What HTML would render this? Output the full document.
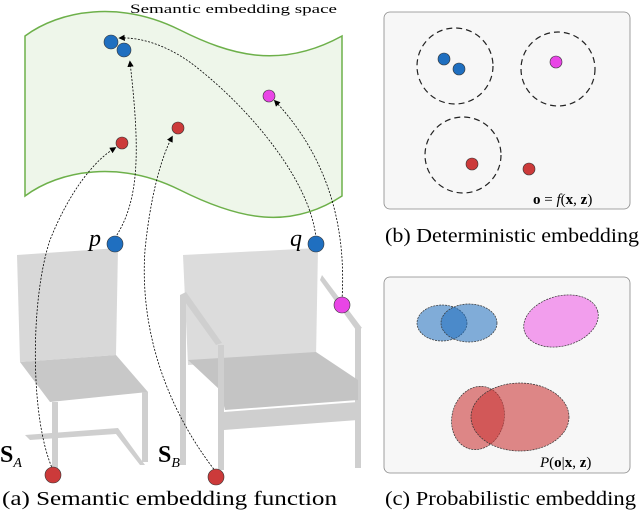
<!DOCTYPE html>
<html><head><style>body{margin:0;background:#fff}svg{display:block}</style></head><body>
<svg width="640" height="512" viewBox="0 0 640 512" xmlns="http://www.w3.org/2000/svg" font-family="Liberation Serif, serif">
<defs><marker id="ar" markerWidth="8" markerHeight="8" refX="6" refY="4" orient="auto"><path d="M0,0 L8,4 L0,8 z" fill="#000"/></marker></defs>
<path d="M25,36 C60,10 120,0 180,30 C230,55 280,70 342,36 L342,196 C290,230 240,220 180,190 C120,160 60,170 25,196 Z" fill="#eef6ea" stroke="#6db04a" stroke-width="1.5"/>
<text x="130" y="13" font-size="13" textLength="207" lengthAdjust="spacingAndGlyphs">Semantic embedding space</text>
<g fill="#cfcfcf">
<path d="M17,255 L118,248 L116,355 L20,362 Z" fill="#d8d8d8"/>
<path d="M20,362 L116,355 L148,392 L50,402 Z" fill="#c8c8c8"/>
<rect x="52" y="402" width="6" height="70"/>
<rect x="142" y="392" width="6" height="70"/>
<path d="M25,435 L118,428 L145,465 L140,465 L116,434 L30,440 Z"/>
</g>
<g fill="#cfcfcf">
<path d="M183,255 L318,248 L316,358 L188,365 Z" fill="#dcdcdc"/>
<rect x="180" y="295" width="6" height="170"/>
<path d="M180,295 L216,345 L222,343 L186,292 Z"/>
<path d="M322,275 L362,328 L356,330 L320,280 Z"/>
<rect x="355" y="328" width="6" height="140"/>
<path d="M188,360 L316,352 L358,380 L358,400 L225,410 L220,390 Z" fill="#c4c4c4"/>
<rect x="218" y="345" width="6" height="125"/>
<path d="M224,412 L358,402 L358,420 L224,430 Z"/>
</g>
<g fill="none" stroke="#000" stroke-width="0.8" stroke-dasharray="2,1.5" marker-end="url(#ar)">
<path d="M53,470 C30,420 30,300 50,240 C70,190 95,160 115,148"/>
<path d="M115,238 C140,200 140,150 130,62"/>
<path d="M216,472 C160,400 140,320 145,250 C150,200 160,160 172,137"/>
<path d="M316,238 C310,180 250,110 200,70 C170,45 140,37 120,38"/>
<path d="M342,300 C345,250 340,170 275,101"/>
</g>
<g stroke="#333" stroke-width="0.6">
<circle cx="111" cy="42" r="7" fill="#1f6fc0"/><circle cx="124" cy="50" r="7" fill="#1f6fc0"/>
<circle cx="269" cy="96" r="6" fill="#e945e6"/>
<circle cx="122" cy="143" r="6" fill="#cc3a3a"/><circle cx="178" cy="128" r="6" fill="#cc3a3a"/>
<circle cx="115" cy="244" r="8" fill="#1f6fc0"/><circle cx="316" cy="244" r="8" fill="#1f6fc0"/>
<circle cx="342" cy="305" r="8" fill="#e945e6"/>
<circle cx="53" cy="475" r="8" fill="#cc3a3a"/><circle cx="216" cy="477" r="8" fill="#cc3a3a"/>
</g>
<text x="89" y="246" font-size="24" font-style="italic">p</text>
<text x="290" y="246" font-size="24" font-style="italic">q</text>
<text x="0" y="462" font-size="24" font-weight="bold">S<tspan font-size="14" font-style="italic" font-weight="normal" dy="5">A</tspan></text>
<text x="158" y="462" font-size="24" font-weight="bold">S<tspan font-size="14" font-style="italic" font-weight="normal" dy="5">B</tspan></text>
<text x="2" y="505" font-size="20" textLength="335" lengthAdjust="spacingAndGlyphs">(a) Semantic embedding function</text>
<rect x="384" y="12" width="246" height="197" rx="6" fill="#f7f7f7" stroke="#888" stroke-width="0.8"/>
<g fill="none" stroke="#222" stroke-width="1.2" stroke-dasharray="6,4">
<circle cx="455" cy="66" r="38"/><circle cx="558" cy="69" r="37"/><circle cx="463" cy="155" r="38"/>
</g>
<g stroke="#333" stroke-width="0.6">
<circle cx="444" cy="59" r="6" fill="#1f6fc0"/><circle cx="459" cy="69" r="6" fill="#1f6fc0"/>
<circle cx="556" cy="62" r="6" fill="#e945e6"/>
<circle cx="472" cy="164" r="6" fill="#cc3a3a"/><circle cx="529" cy="169" r="6" fill="#cc3a3a"/>
</g>
<text x="533" y="204" font-size="15"><tspan font-weight="bold">o</tspan> = <tspan font-style="italic">f</tspan>(<tspan font-weight="bold">x</tspan>, <tspan font-weight="bold">z</tspan>)</text>
<text x="385" y="242" font-size="20" textLength="254" lengthAdjust="spacingAndGlyphs">(b) Deterministic embedding</text>
<rect x="384" y="277" width="246" height="196" rx="6" fill="#f7f7f7" stroke="#888" stroke-width="0.8"/>
<g stroke="#333" stroke-width="0.7" stroke-dasharray="2,1">
<ellipse cx="442" cy="323" rx="25" ry="18" fill="#1f6fc0" fill-opacity="0.55"/>
<ellipse cx="469" cy="323" rx="28" ry="19" fill="#1f6fc0" fill-opacity="0.55"/>
<ellipse cx="561" cy="321" rx="38" ry="25" transform="rotate(-15 561 321)" fill="#f080ea" fill-opacity="0.75"/>
<ellipse cx="478" cy="418" rx="26" ry="32" transform="rotate(15 478 418)" fill="#cc3a3a" fill-opacity="0.6"/>
<ellipse cx="520" cy="417" rx="49" ry="34" fill="#cc3a3a" fill-opacity="0.6"/>
</g>
<text x="540" y="467" font-size="15"><tspan font-style="italic">P</tspan>(<tspan font-weight="bold">o</tspan>|<tspan font-weight="bold">x</tspan>, <tspan font-weight="bold">z</tspan>)</text>
<text x="385" y="505" font-size="20" textLength="251" lengthAdjust="spacingAndGlyphs">(c) Probabilistic embedding</text>
</svg>
</body></html>
